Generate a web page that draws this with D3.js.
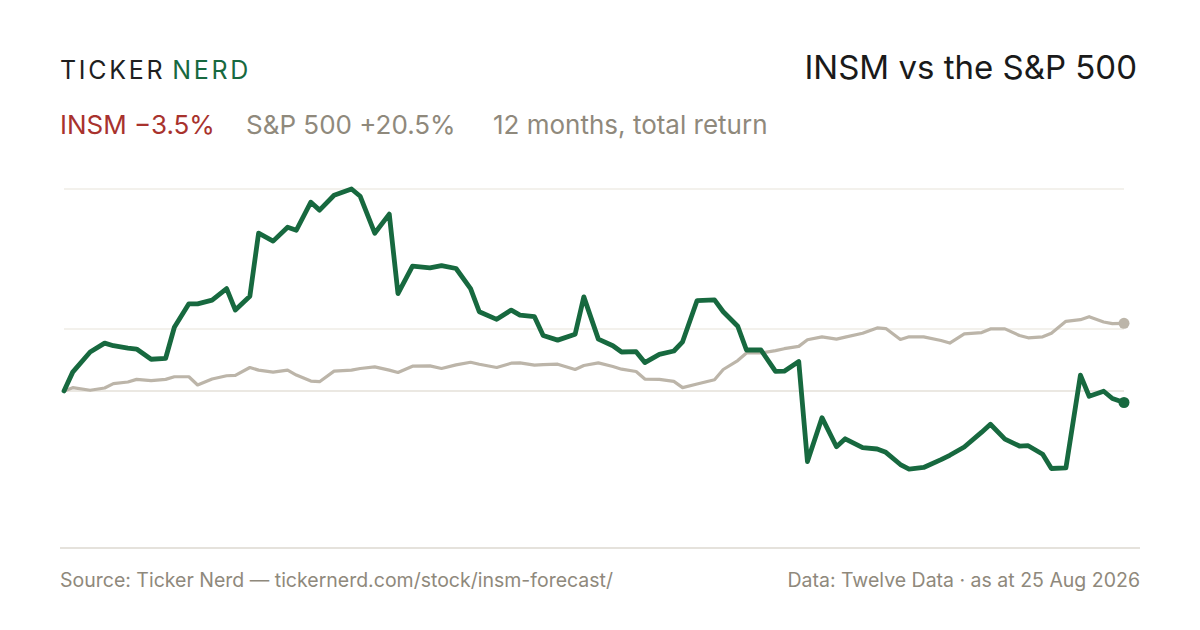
<!DOCTYPE html>
<html>
<head>
<meta charset="utf-8">
<script src="https://cdn.jsdelivr.net/npm/d3@7"></script>
<style>
  body { margin: 0; background: #fff; }
  svg { display: block; }
  text { font-family: Inter, "Noto Sans", "Liberation Sans", sans-serif; }
</style>
</head>
<body>
<div id="chart"></div>
<script>
// sampled every third trading day, plus the last close
const dates = [
  '2025-08-25', '2025-08-28', '2025-09-03', '2025-09-08', '2025-09-11', '2025-09-16', '2025-09-19',
  '2025-09-24', '2025-09-29', '2025-10-02', '2025-10-07', '2025-10-10', '2025-10-15', '2025-10-20',
  '2025-10-23', '2025-10-28', '2025-10-31', '2025-11-05', '2025-11-10', '2025-11-13', '2025-11-18',
  '2025-11-21', '2025-11-26', '2025-12-02', '2025-12-05', '2025-12-10', '2025-12-15', '2025-12-18',
  '2025-12-23', '2025-12-29', '2026-01-02', '2026-01-07', '2026-01-12', '2026-01-15', '2026-01-21',
  '2026-01-26', '2026-01-29', '2026-02-03', '2026-02-06', '2026-02-11', '2026-02-17', '2026-02-20',
  '2026-02-25', '2026-03-02', '2026-03-05', '2026-03-10', '2026-03-13', '2026-03-18', '2026-03-23',
  '2026-03-26', '2026-03-31', '2026-04-06', '2026-04-09', '2026-04-14', '2026-04-17', '2026-04-22',
  '2026-04-27', '2026-04-30', '2026-05-05', '2026-05-08', '2026-05-13', '2026-05-18', '2026-05-21',
  '2026-05-27', '2026-06-01', '2026-06-04', '2026-06-09', '2026-06-12', '2026-06-17', '2026-06-23',
  '2026-06-26', '2026-07-01', '2026-07-07', '2026-07-10', '2026-07-15', '2026-07-20', '2026-07-23',
  '2026-07-28', '2026-07-31', '2026-08-05', '2026-08-10', '2026-08-13', '2026-08-18', '2026-08-21',
  '2026-08-25'
]

// total return since start, %
const insm = [
  0, 5.7, 11.8, 14.5, 13.7, 13.0, 12.7, 9.6, 9.9, 19.3, 26.4, 26.4, 27.5, 31.0,
  24.5, 28.7, 47.8, 45.4, 49.6, 48.7, 57.2, 54.8, 59.3, 61.2, 59.0, 47.8, 53.6, 29.5,
  37.8, 37.3, 38.0, 37.1, 31.0, 24.0, 21.7, 24.5, 23.0, 22.5, 16.8, 15.4, 17.2, 28.5,
  15.7, 13.7, 11.8, 11.9, 8.6, 11.1, 12.1, 14.9, 27.4, 27.6, 24.0, 19.6, 12.4, 12.4,
  5.9, 6.0, 8.9, -21.4, -8.1, -16.9, -14.5, -17.2, -17.6, -18.6, -22.3, -23.7, -23.2,
  -20.8, -19.5, -17.0, -12.5, -10.1, -14.6, -16.7, -16.6, -19.2, -23.5, -23.3, 4.8,
  -1.6, -0.1, -2.3, -3.5
]

const spx = [
  0, 1.0, 0.2, 0.9, 2.2, 2.7, 3.5, 3.1, 3.5, 4.3, 4.3, 1.8, 3.6, 4.6,
  4.7, 7.1, 6.3, 5.7, 6.3, 4.8, 3.0, 2.8, 6.0, 6.3, 6.8, 7.3, 6.3, 5.6,
  7.5, 7.6, 6.8, 7.9, 8.7, 8.1, 7.1, 8.4, 8.5, 7.8, 8.0, 8.1, 6.5, 7.7,
  8.5, 7.4, 6.6, 5.9, 3.6, 3.5, 2.9, 1.0, 2.1, 3.4, 6.5, 9.2, 11.5, 11.5,
  12.2, 12.8, 13.5, 15.5, 16.4, 15.7, 16.3, 17.5, 19.1, 18.9, 15.6, 16.4, 16.4,
  15.3, 14.5, 17.3, 17.7, 18.8, 18.8, 16.8, 16.1, 16.4, 17.5, 21.1, 21.6,
  22.5, 20.9, 20.4, 20.5
]

const summary = [
  { label: 'INSM \u22123.5%', color: '#a8322d', x: 60 },
  { label: 'S&P 500 +20.5%', color: '#8f897c', x: 246 },
  { label: '12 months, total return', color: '#8f897c', x: 493 }
]

const width = 1200
const height = 630
const green = '#17693f'
const sand = '#bcb5a9'

const parse = d3.timeParse('%Y-%m-%d')
const series = dates.map((d, i) => ({ date: parse(d), insm: insm[i], spx: spx[i] }))

const svg = d3.select('#chart')
  .append('svg')
  .attr('width', width)
  .attr('height', height)

svg.append('rect')
  .attr('width', width)
  .attr('height', height)
  .attr('fill', '#ffffff')

// Header
const logo = svg.append('text')
  .attr('x', 60)
  .attr('y', 79)
  .attr('font-size', '25px')
  .attr('letter-spacing', '2.7px')
logo.append('tspan').attr('fill', '#1f1f1f').text('TICKER')
logo.append('tspan').attr('fill', green).attr('dx', 7).text('NERD')

svg.append('text')
  .attr('x', 1137)
  .attr('y', 79)
  .attr('text-anchor', 'end')
  .attr('font-size', '33px')
  .attr('fill', '#1a1a1a')
  .text('INSM vs the S&P 500')

svg.selectAll('text.summary')
  .data(summary)
  .join('text')
  .attr('class', 'summary')
  .attr('x', d => d.x)
  .attr('y', 134)
  .attr('font-size', '26px')
  .attr('fill', d => d.color)
  .text(d => d.label)

// Scales
const x = d3.scaleTime()
  .domain(d3.extent(series, d => d.date))
  .range([64, 1124])

const yMax = d3.max(insm)
const yMin = d3.min(insm)
const y = d3.scaleLinear()
  .domain([-47.6, yMax])
  .range([548, 189])

// Gridlines: top, midpoint of the range, zero
const gridValues = [yMax, (yMin + yMax) / 2, 0]
svg.append('g')
  .selectAll('line')
  .data(gridValues)
  .join('line')
  .attr('x1', x.range()[0])
  .attr('x2', x.range()[1])
  .attr('y1', d => y(d))
  .attr('y2', d => y(d))
  .attr('stroke', d => d === 0 ? '#e4e0d8' : '#efece6')
  .attr('stroke-width', 1.5)

// Bottom rule
svg.append('line')
  .attr('x1', 60)
  .attr('x2', 1140)
  .attr('y1', 548)
  .attr('y2', 548)
  .attr('stroke', '#ddd9d0')
  .attr('stroke-width', 1.5)

// Lines
const lineFor = key => d3.line()
  .x(d => x(d.date))
  .y(d => y(d[key]))

svg.append('path')
  .datum(series)
  .attr('d', lineFor('spx'))
  .attr('fill', 'none')
  .attr('stroke', sand)
  .attr('stroke-width', 3.2)
  .attr('stroke-linejoin', 'round')

svg.append('path')
  .datum(series)
  .attr('d', lineFor('insm'))
  .attr('fill', 'none')
  .attr('stroke', green)
  .attr('stroke-width', 4.8)
  .attr('stroke-linejoin', 'round')
  .attr('stroke-linecap', 'round')

const last = series[series.length - 1]
svg.append('circle')
  .attr('cx', x(last.date))
  .attr('cy', y(last.spx))
  .attr('r', 5.5)
  .attr('fill', sand)

svg.append('circle')
  .attr('cx', x(last.date))
  .attr('cy', y(last.insm))
  .attr('r', 5.5)
  .attr('fill', green)

// Footer
svg.append('text')
  .attr('x', 60)
  .attr('y', 587)
  .attr('font-size', '19.5px')
  .attr('fill', '#8f897c')
  .text('Source: Ticker Nerd \u2014 tickernerd.com/stock/insm-forecast/')

svg.append('text')
  .attr('x', 1140)
  .attr('y', 587)
  .attr('text-anchor', 'end')
  .attr('font-size', '19.5px')
  .attr('fill', '#8f897c')
  .text('Data: Twelve Data \u00b7 as at 25 Aug 2026')
</script>
</body>
</html>
